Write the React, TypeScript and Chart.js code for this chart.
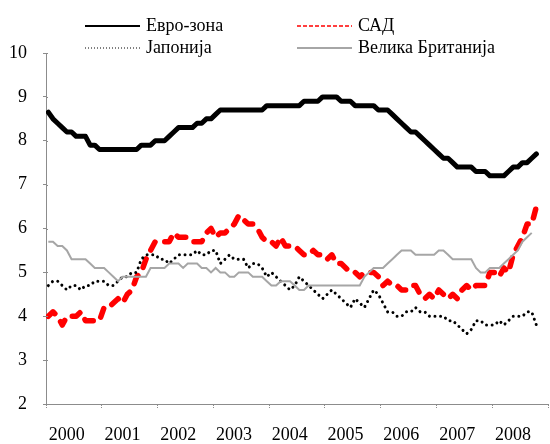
import React, { useEffect, useRef } from 'react';
import { Chart, registerables } from 'chart.js';

Chart.register(...registerables);

const years = ['2000', '2001', '2002', '2003', '2004', '2005', '2006', '2007', '2008'];
const seriesNames = ['Евро-зона', 'САД', 'Јапонија', 'Велика Британија'];
const yMin = 2;
const yMax = 10;

// monthly values, Jan 2000 onwards
const euroZone = [
  8.65, 8.5, 8.4, 8.3, 8.2, 8.2, 8.1, 8.1, 8.1, 7.9, 7.9, 7.8,
  7.8, 7.8, 7.8, 7.8, 7.8, 7.8, 7.8, 7.8, 7.9, 7.9, 7.9, 8.0,
  8.0, 8.0, 8.1, 8.2, 8.3, 8.3, 8.3, 8.3, 8.4, 8.4, 8.5, 8.5,
  8.6, 8.7, 8.7, 8.7, 8.7, 8.7, 8.7, 8.7, 8.7, 8.7, 8.7, 8.8,
  8.8, 8.8, 8.8, 8.8, 8.8, 8.8, 8.8, 8.9, 8.9, 8.9, 8.9, 9.0,
  9.0, 9.0, 9.0, 8.9, 8.9, 8.9, 8.8, 8.8, 8.8, 8.8, 8.8, 8.7,
  8.7, 8.7, 8.6, 8.5, 8.4, 8.3, 8.2, 8.2, 8.1, 8.0, 7.9, 7.8,
  7.7, 7.6, 7.6, 7.5, 7.4, 7.4, 7.4, 7.4, 7.3, 7.3, 7.3, 7.2,
  7.2, 7.2, 7.2, 7.3, 7.4, 7.4, 7.5, 7.5, 7.6, 7.7,
];

const usa = [
  4.0, 4.1, 4.0, 3.8, 4.0, 4.0, 4.0, 4.1, 3.9, 3.9, 3.9, 3.9,
  4.2, 4.2, 4.3, 4.4, 4.3, 4.5, 4.6, 4.9, 5.0, 5.3, 5.5, 5.7,
  5.7, 5.7, 5.7, 5.9, 5.8, 5.8, 5.8, 5.7, 5.7, 5.7, 5.9, 6.0,
  5.8, 5.9, 5.9, 6.0, 6.1, 6.3, 6.2, 6.1, 6.1, 6.0, 5.8, 5.7,
  5.7, 5.6, 5.8, 5.6, 5.6, 5.6, 5.5, 5.4, 5.4, 5.5, 5.4, 5.4,
  5.3, 5.4, 5.2, 5.2, 5.1, 5.0, 5.0, 4.9, 5.0, 5.0, 5.0, 4.9,
  4.7, 4.8, 4.7, 4.7, 4.6, 4.6, 4.7, 4.7, 4.5, 4.4, 4.5, 4.4,
  4.6, 4.5, 4.4, 4.5, 4.4, 4.6, 4.7, 4.6, 4.7, 4.7, 4.7, 5.0,
  5.0, 4.9, 5.1, 5.0, 5.4, 5.6, 5.8, 6.1, 6.1, 6.5,
];

const japan = [
  4.7, 4.8, 4.8, 4.7, 4.6, 4.7, 4.7, 4.6, 4.7, 4.7, 4.8, 4.8,
  4.8, 4.7, 4.7, 4.8, 4.9, 4.9, 5.0, 5.0, 5.3, 5.4, 5.4, 5.4,
  5.3, 5.3, 5.2, 5.3, 5.4, 5.4, 5.4, 5.4, 5.5, 5.4, 5.4, 5.5,
  5.5, 5.2, 5.3, 5.4, 5.3, 5.3, 5.3, 5.1, 5.2, 5.2, 5.1, 4.9,
  5.0, 4.9, 4.8, 4.7, 4.6, 4.7, 4.9, 4.8, 4.7, 4.6, 4.5, 4.4,
  4.5, 4.6, 4.5, 4.4, 4.3, 4.2, 4.4, 4.3, 4.2, 4.4, 4.6, 4.5,
  4.3, 4.1, 4.1, 4.0, 4.0, 4.1, 4.1, 4.2, 4.1, 4.1, 4.0, 4.0,
  4.0, 4.0, 3.9, 3.9, 3.8, 3.7, 3.6, 3.7, 3.9, 3.9, 3.8, 3.8,
  3.8, 3.9, 3.8, 3.9, 4.0, 4.0, 4.0, 4.1, 4.1, 3.8,
];

const uk = [
  5.7, 5.7, 5.6, 5.6, 5.5, 5.3, 5.3, 5.3, 5.3, 5.2, 5.1, 5.1,
  5.1, 5.0, 4.9, 4.8, 4.9, 4.9, 4.9, 4.9, 4.9, 4.9, 5.1, 5.1,
  5.1, 5.1, 5.2, 5.2, 5.2, 5.1, 5.2, 5.2, 5.2, 5.1, 5.1, 5.0,
  5.1, 5.0, 5.0, 4.9, 4.9, 5.0, 5.0, 5.0, 4.9, 4.9, 4.9, 4.8,
  4.7, 4.7, 4.8, 4.8, 4.8, 4.7, 4.6, 4.6, 4.7, 4.7, 4.7, 4.7,
  4.7, 4.7, 4.7, 4.7, 4.7, 4.7, 4.7, 4.7, 4.9, 5.0, 5.1, 5.1,
  5.1, 5.2, 5.3, 5.4, 5.5, 5.5, 5.5, 5.4, 5.4, 5.4, 5.4, 5.4,
  5.5, 5.5, 5.4, 5.3, 5.3, 5.3, 5.3, 5.3, 5.1, 5.0, 5.0, 5.1,
  5.1, 5.1, 5.2, 5.3, 5.4, 5.5, 5.7, 5.8, 5.9,
];

const FONT = '"Liberation Serif", "Times New Roman", serif';
const AXIS_GREY = '#8c8c8c';
const toPoints = (arr: number[]) => arr.map((v, i) => ({ x: i + 0.5, y: v }));

const legendItems = [
  { label: seriesNames[0], color: '#000000', width: 2, dash: [] as number[], x: 85, y: 26 },
  { label: seriesNames[1], color: '#ff0000', width: 1.5, dash: [4, 2], x: 297, y: 26 },
  { label: seriesNames[2], color: '#000000', width: 1, dash: [1, 2], x: 85, y: 48 },
  { label: seriesNames[3], color: '#a6a6a6', width: 2, dash: [] as number[], x: 297, y: 48 },
];

const legendPlugin = {
  id: 'customLegend',
  afterDraw(chart: any) {
    const ctx = chart.ctx as CanvasRenderingContext2D;
    ctx.save();
    for (const it of legendItems) {
      ctx.beginPath();
      ctx.setLineDash(it.dash);
      ctx.strokeStyle = it.color;
      ctx.lineWidth = it.width;
      ctx.lineCap = 'butt';
      ctx.moveTo(it.x, it.y);
      ctx.lineTo(it.x + 55, it.y);
      ctx.stroke();
      ctx.setLineDash([]);
      ctx.fillStyle = '#000000';
      ctx.font = '18px ' + FONT;
      ctx.textBaseline = 'middle';
      ctx.textAlign = 'left';
      ctx.fillText(it.label, it.x + 61, it.y);
    }
    // small tick marks crossing the y axis (inner half)
    const yScale = chart.scales.y;
    const left = chart.chartArea.left;
    ctx.strokeStyle = AXIS_GREY;
    ctx.lineWidth = 1;
    ctx.setLineDash([]);
    for (const t of yScale.ticks) {
      const py = Math.round(yScale.getPixelForValue(t.value)) + 0.5;
      ctx.beginPath();
      ctx.moveTo(left, py);
      ctx.lineTo(left + 2, py);
      ctx.stroke();
    }
    ctx.restore();
  },
};

export default function App() {
  const canvasRef = useRef<HTMLCanvasElement | null>(null);

  useEffect(() => {
    document.body.style.margin = '0';
    const canvas = canvasRef.current;
    if (!canvas) return;
    const total = years.length * 12;
    const chart = new Chart(canvas, {
      type: 'line',
      data: {
        datasets: [
          {
            label: seriesNames[3],
            data: toPoints(uk),
            borderColor: '#a6a6a6',
            borderWidth: 2,
            pointRadius: 0,
            tension: 0,
          },
          {
            label: seriesNames[2],
            data: toPoints(japan),
            borderColor: '#000000',
            borderWidth: 3,
            borderDash: [0.01, 5.6],
            borderCapStyle: 'round',
            pointRadius: 0,
            tension: 0,
          },
          {
            label: seriesNames[1],
            data: toPoints(usa),
            borderColor: '#ff0000',
            borderWidth: 5.5,
            borderDash: [9, 10],
            borderCapStyle: 'round',
            borderJoinStyle: 'round',
            pointRadius: 0,
            tension: 0,
          },
          {
            label: seriesNames[0],
            data: toPoints(euroZone),
            borderColor: '#000000',
            borderWidth: 5,
            borderCapStyle: 'round',
            borderJoinStyle: 'round',
            pointRadius: 0,
            tension: 0,
          },
        ],
      },
      options: {
        responsive: false,
        animation: false,
        devicePixelRatio: 1,
        layout: { padding: { left: 0, right: 2, top: 53, bottom: 0 } },
        plugins: { legend: { display: false }, tooltip: { enabled: false } },
        scales: {
          x: {
            type: 'linear',
            min: 0,
            max: total,
            afterBuildTicks: (scale: any) => {
              const t: { value: number }[] = [];
              for (let k = 0; k <= years.length; k++) t.push({ value: k * 12 });
              for (let k = 0; k < years.length; k++) t.push({ value: k * 12 + 4.45 });
              scale.ticks = t;
            },
            afterFit: (scale: any) => {
              scale.height = 40;
            },
            grid: {
              drawOnChartArea: false,
              drawTicks: true,
              tickLength: 5,
              color: (c: any) => (c.tick && c.tick.value % 12 === 0 ? AXIS_GREY : 'rgba(0,0,0,0)'),
              tickBorderDash: [1, 1],
            },
            border: { display: true, color: AXIS_GREY, dash: [1, 1], width: 1 },
            ticks: {
              autoSkip: false,
              maxRotation: 0,
              minRotation: 0,
              padding: 15,
              color: '#000000',
              font: { family: FONT, size: 18 },
              callback: (v: any) => {
                const n = Number(v);
                if (n % 12 === 0) return '';
                return years[Math.floor(n / 12)];
              },
            },
          },
          y: {
            min: yMin,
            max: yMax,
            afterFit: (scale: any) => {
              scale.width = 46;
            },
            grid: {
              drawOnChartArea: false,
              drawTicks: true,
              tickLength: 3,
              color: AXIS_GREY,
            },
            border: { display: true, color: AXIS_GREY, dash: [1, 1], width: 1 },
            ticks: {
              stepSize: 1,
              padding: 16,
              color: '#000000',
              font: { family: FONT, size: 18 },
            },
          },
        },
      },
      plugins: [legendPlugin],
    });
    return () => chart.destroy();
  }, []);

  return (
    <div style={{ width: 550, height: 444, background: '#ffffff' }}>
      <canvas ref={canvasRef} width={550} height={444} style={{ display: 'block' }} />
    </div>
  );
}
